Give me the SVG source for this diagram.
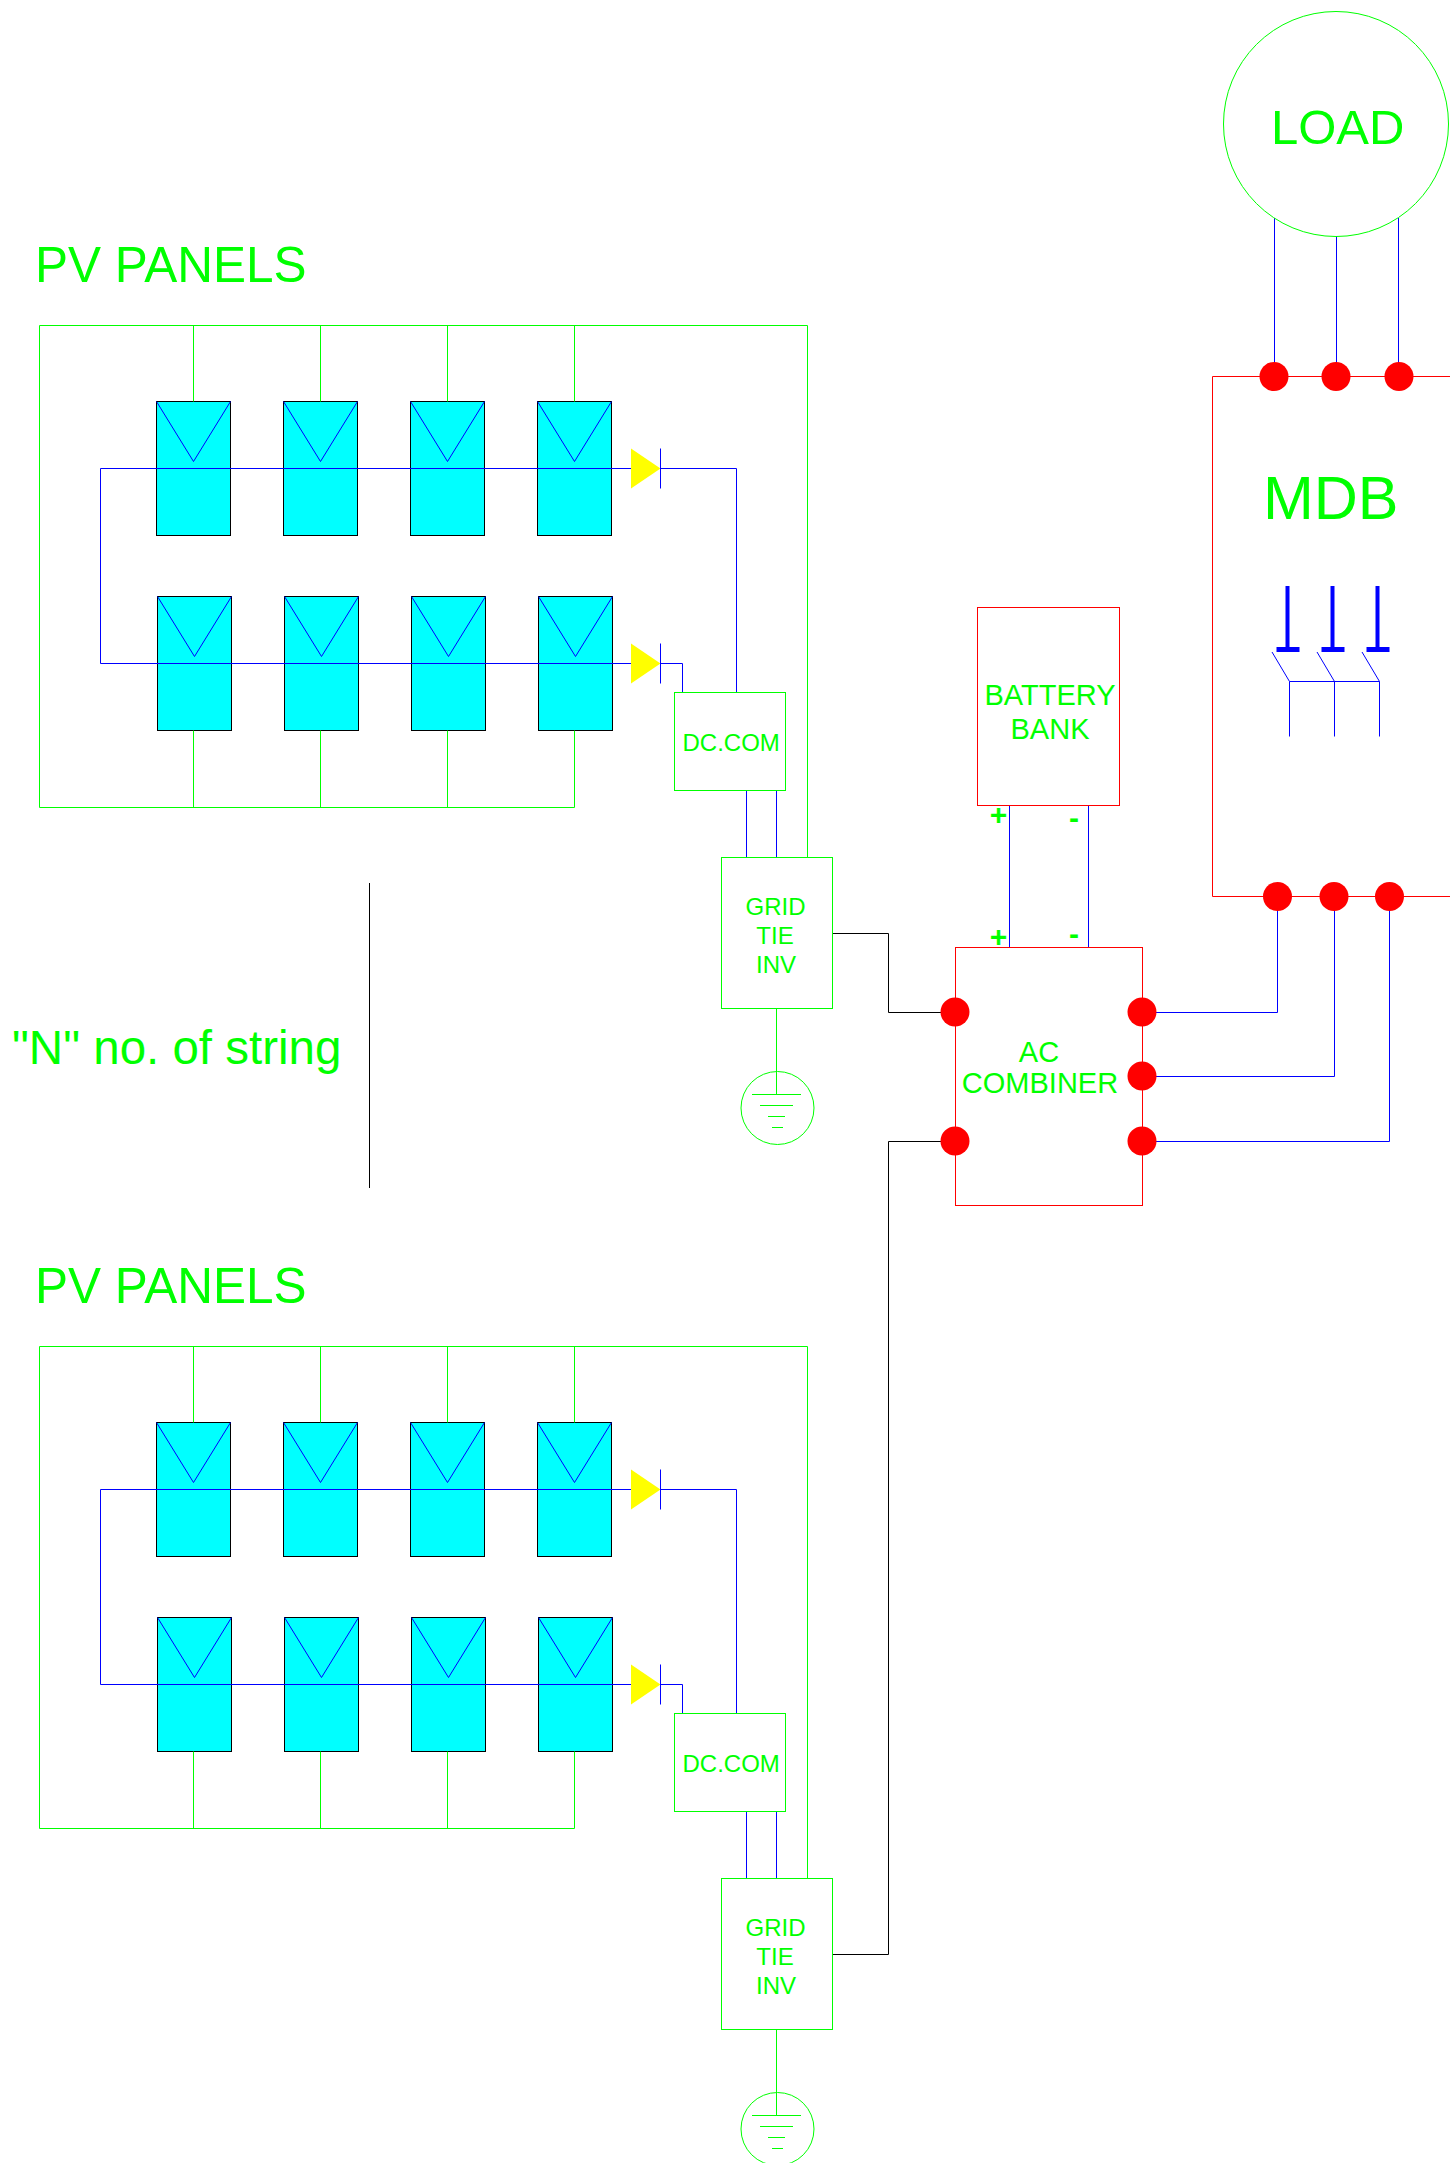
<svg xmlns="http://www.w3.org/2000/svg" width="1450" height="2163" viewBox="0 0 1450 2163">
<style>
.g{fill:none;stroke:#00ff00;stroke-width:1}
.b{fill:none;stroke:#0000ff;stroke-width:1}
.r{fill:none;stroke:#ff0000;stroke-width:1}
.k{fill:none;stroke:#000000;stroke-width:1}
.dot{fill:#ff0000}
text{font-family:"Liberation Sans",Arial,sans-serif;fill:#00ff00}
.t48{font-size:49.500px}
.t24{font-size:24px}
.t28{font-size:29px}
.sign{font-size:30px;font-weight:bold}
.m{text-anchor:middle}
</style>
<defs>
<g id="panel"><rect x="0" y="0" width="74" height="134" fill="#00ffff" stroke="#000000" stroke-width="1"/><path class="b" d="M0 0L37 60L74 0"/></g>
<g id="diode"><polygon points="0,0 29.5,20 0,40" fill="#ffff00"/><path class="b" d="M29.5 0V40"/></g>
<g id="ground"><circle class="g" cx="36.5" cy="36.5" r="36.5"/><path class="g" d="M11 23H60M19 34H52M27 45H44M31 56H42"/></g>
<g id="breaker"><path d="M1 0V66" fill="none" stroke="#0000ff" stroke-width="4"/><path d="M-10 63.5H13" fill="none" stroke="#0000ff" stroke-width="5"/></g>
</defs>

<g id="string-1-panels">
<g id="panel-1a" transform="translate(156.5 401.5)"><use href="#panel"/></g>
<g id="panel-1b" transform="translate(283.5 401.5)"><use href="#panel"/></g>
<g id="panel-1c" transform="translate(410.5 401.5)"><use href="#panel"/></g>
<g id="panel-1d" transform="translate(537.5 401.5)"><use href="#panel"/></g>
<g id="panel-1e" transform="translate(157.5 596.5)"><use href="#panel"/></g>
<g id="panel-1f" transform="translate(284.5 596.5)"><use href="#panel"/></g>
<g id="panel-1g" transform="translate(411.5 596.5)"><use href="#panel"/></g>
<g id="panel-1h" transform="translate(538.5 596.5)"><use href="#panel"/></g>
</g>
<g id="string-2-panels">
<g id="panel-2a" transform="translate(156.5 1422.5)"><use href="#panel"/></g>
<g id="panel-2b" transform="translate(283.5 1422.5)"><use href="#panel"/></g>
<g id="panel-2c" transform="translate(410.5 1422.5)"><use href="#panel"/></g>
<g id="panel-2d" transform="translate(537.5 1422.5)"><use href="#panel"/></g>
<g id="panel-2e" transform="translate(157.5 1617.5)"><use href="#panel"/></g>
<g id="panel-2f" transform="translate(284.5 1617.5)"><use href="#panel"/></g>
<g id="panel-2g" transform="translate(411.5 1617.5)"><use href="#panel"/></g>
<g id="panel-2h" transform="translate(538.5 1617.5)"><use href="#panel"/></g>
</g>

<g id="connectors">
<path class="g" d="M807.5 857.5V325.5H39.5V807.5H574.5M193.5 325.5V401.5M320.5 325.5V401.5M447.5 325.5V401.5M574.5 325.5V401.5M193.5 730.5V807.5M320.5 730.5V807.5M447.5 730.5V807.5M574.5 730.5V807.5"/>
<path class="b" d="M631 468.5H100.5V663.5H631M660 468.5H736.5V692.5M660 663.5H682.5V692.5M746.5 790.5V857.5M776.5 790.5V857.5"/>
<path class="g" d="M776.5 1008.5V1094.5"/>
<path class="k" d="M832.5 933.5H888.5V1012.5H955"/>

<path class="g" d="M807.5 1878.5V1346.5H39.5V1828.5H574.5M193.5 1346.5V1422.5M320.5 1346.5V1422.5M447.5 1346.5V1422.5M574.5 1346.5V1422.5M193.5 1751.5V1828.5M320.5 1751.5V1828.5M447.5 1751.5V1828.5M574.5 1751.5V1828.5"/>
<path class="b" d="M631 1489.5H100.5V1684.5H631M660 1489.5H736.5V1713.5M660 1684.5H682.5V1713.5M746.5 1811.5V1878.5M776.5 1811.5V1878.5"/>
<path class="g" d="M776.5 2029.5V2115.5"/>
<path class="k" d="M832.5 1954.5H888.5V1141.5H955"/>

<path class="b" d="M1009.5 805.5V947.5M1088.5 805.5V947.5"/>
<path class="b" d="M1142 1012.5H1277.5V896M1142 1076.5H1334.5V896M1142 1141.5H1389.5V896"/>
<path class="b" d="M1274.5 218V376M1336.5 236V376M1398.5 218V376"/>
<path class="k" d="M369.5 883V1188"/>
</g>

<g id="label-pv-1"><text class="t48" x="35" y="282">PV PANELS</text></g>
<g id="label-pv-2"><text class="t48" x="35" y="1303">PV PANELS</text></g>
<g id="label-n"><text x="12" y="1064" font-size="47.500">"N" no. of string</text></g>

<g id="diode-1a" transform="translate(631 448.500)"><use href="#diode"/></g>
<g id="diode-1b" transform="translate(631 643.500)"><use href="#diode"/></g>
<g id="diode-2a" transform="translate(631 1469.500)"><use href="#diode"/></g>
<g id="diode-2b" transform="translate(631 1664.500)"><use href="#diode"/></g>

<g id="dc-com-1"><rect class="g" x="674.500" y="692.500" width="111" height="98"/><text class="t24" x="682.500" y="751">DC.COM</text></g>
<g id="dc-com-2"><rect class="g" x="674.500" y="1713.500" width="111" height="98"/><text class="t24" x="682.500" y="1772">DC.COM</text></g>

<g id="inverter-1"><rect class="g" x="721.500" y="857.500" width="111" height="151"/><text class="t24 m" x="775.500" y="915">GRID</text><text class="t24 m" x="775" y="944">TIE</text><text class="t24 m" x="776" y="973">INV</text></g>
<g id="inverter-2"><rect class="g" x="721.500" y="1878.500" width="111" height="151"/><text class="t24 m" x="775.500" y="1936">GRID</text><text class="t24 m" x="775" y="1965">TIE</text><text class="t24 m" x="776" y="1994">INV</text></g>

<g id="ground-1" transform="translate(741 1071.500)"><use href="#ground"/></g>
<g id="ground-2" transform="translate(741 2092.500)"><use href="#ground"/></g>

<g id="battery-bank"><rect class="r" x="977.500" y="607.500" width="142" height="198"/><text class="t28 m" x="1050" y="705">BATTERY</text><text class="t28 m" x="1050" y="739">BANK</text>
<text class="sign m" x="998.500" y="825">+</text><text class="sign m" x="1074" y="828">-</text></g>

<g id="ac-combiner"><rect class="r" x="955.500" y="947.500" width="187" height="258"/><text class="t28 m" x="1039" y="1062">AC</text><text class="t28 m" x="1040" y="1093">COMBINER</text>
<text class="sign m" x="998.500" y="947">+</text><text class="sign m" x="1074" y="944">-</text>
<circle class="dot" cx="955" cy="1012" r="14.500"/><circle class="dot" cx="955" cy="1141" r="14.500"/>
<circle class="dot" cx="1142" cy="1012" r="14.500"/><circle class="dot" cx="1142" cy="1076" r="14.500"/><circle class="dot" cx="1142" cy="1141" r="14.500"/></g>

<g id="mdb"><path class="r" d="M1450 376.500H1212.500V896.500H1450"/><text x="1263" y="519" font-size="61">MDB</text>
<circle class="dot" cx="1274" cy="376.500" r="14.500"/><circle class="dot" cx="1336" cy="376.500" r="14.500"/><circle class="dot" cx="1399" cy="376.500" r="14.500"/>
<circle class="dot" cx="1277.500" cy="896.500" r="14.500"/><circle class="dot" cx="1334" cy="896.500" r="14.500"/><circle class="dot" cx="1389.500" cy="896.500" r="14.500"/>
<g transform="translate(1286.500 586)"><use href="#breaker"/></g><g transform="translate(1331.500 586)"><use href="#breaker"/></g><g transform="translate(1376.500 586)"><use href="#breaker"/></g>
<path class="b" d="M1272 652L1289.500 681.500V736.500M1317 652L1334.500 681.500V736.500M1362 652L1379.500 681.500V736.500M1289.500 681.500H1379.500"/></g>

<g id="load"><circle class="g" cx="1336" cy="124" r="112.500"/><text x="1271" y="144" font-size="49">LOAD</text></g>
</svg>
